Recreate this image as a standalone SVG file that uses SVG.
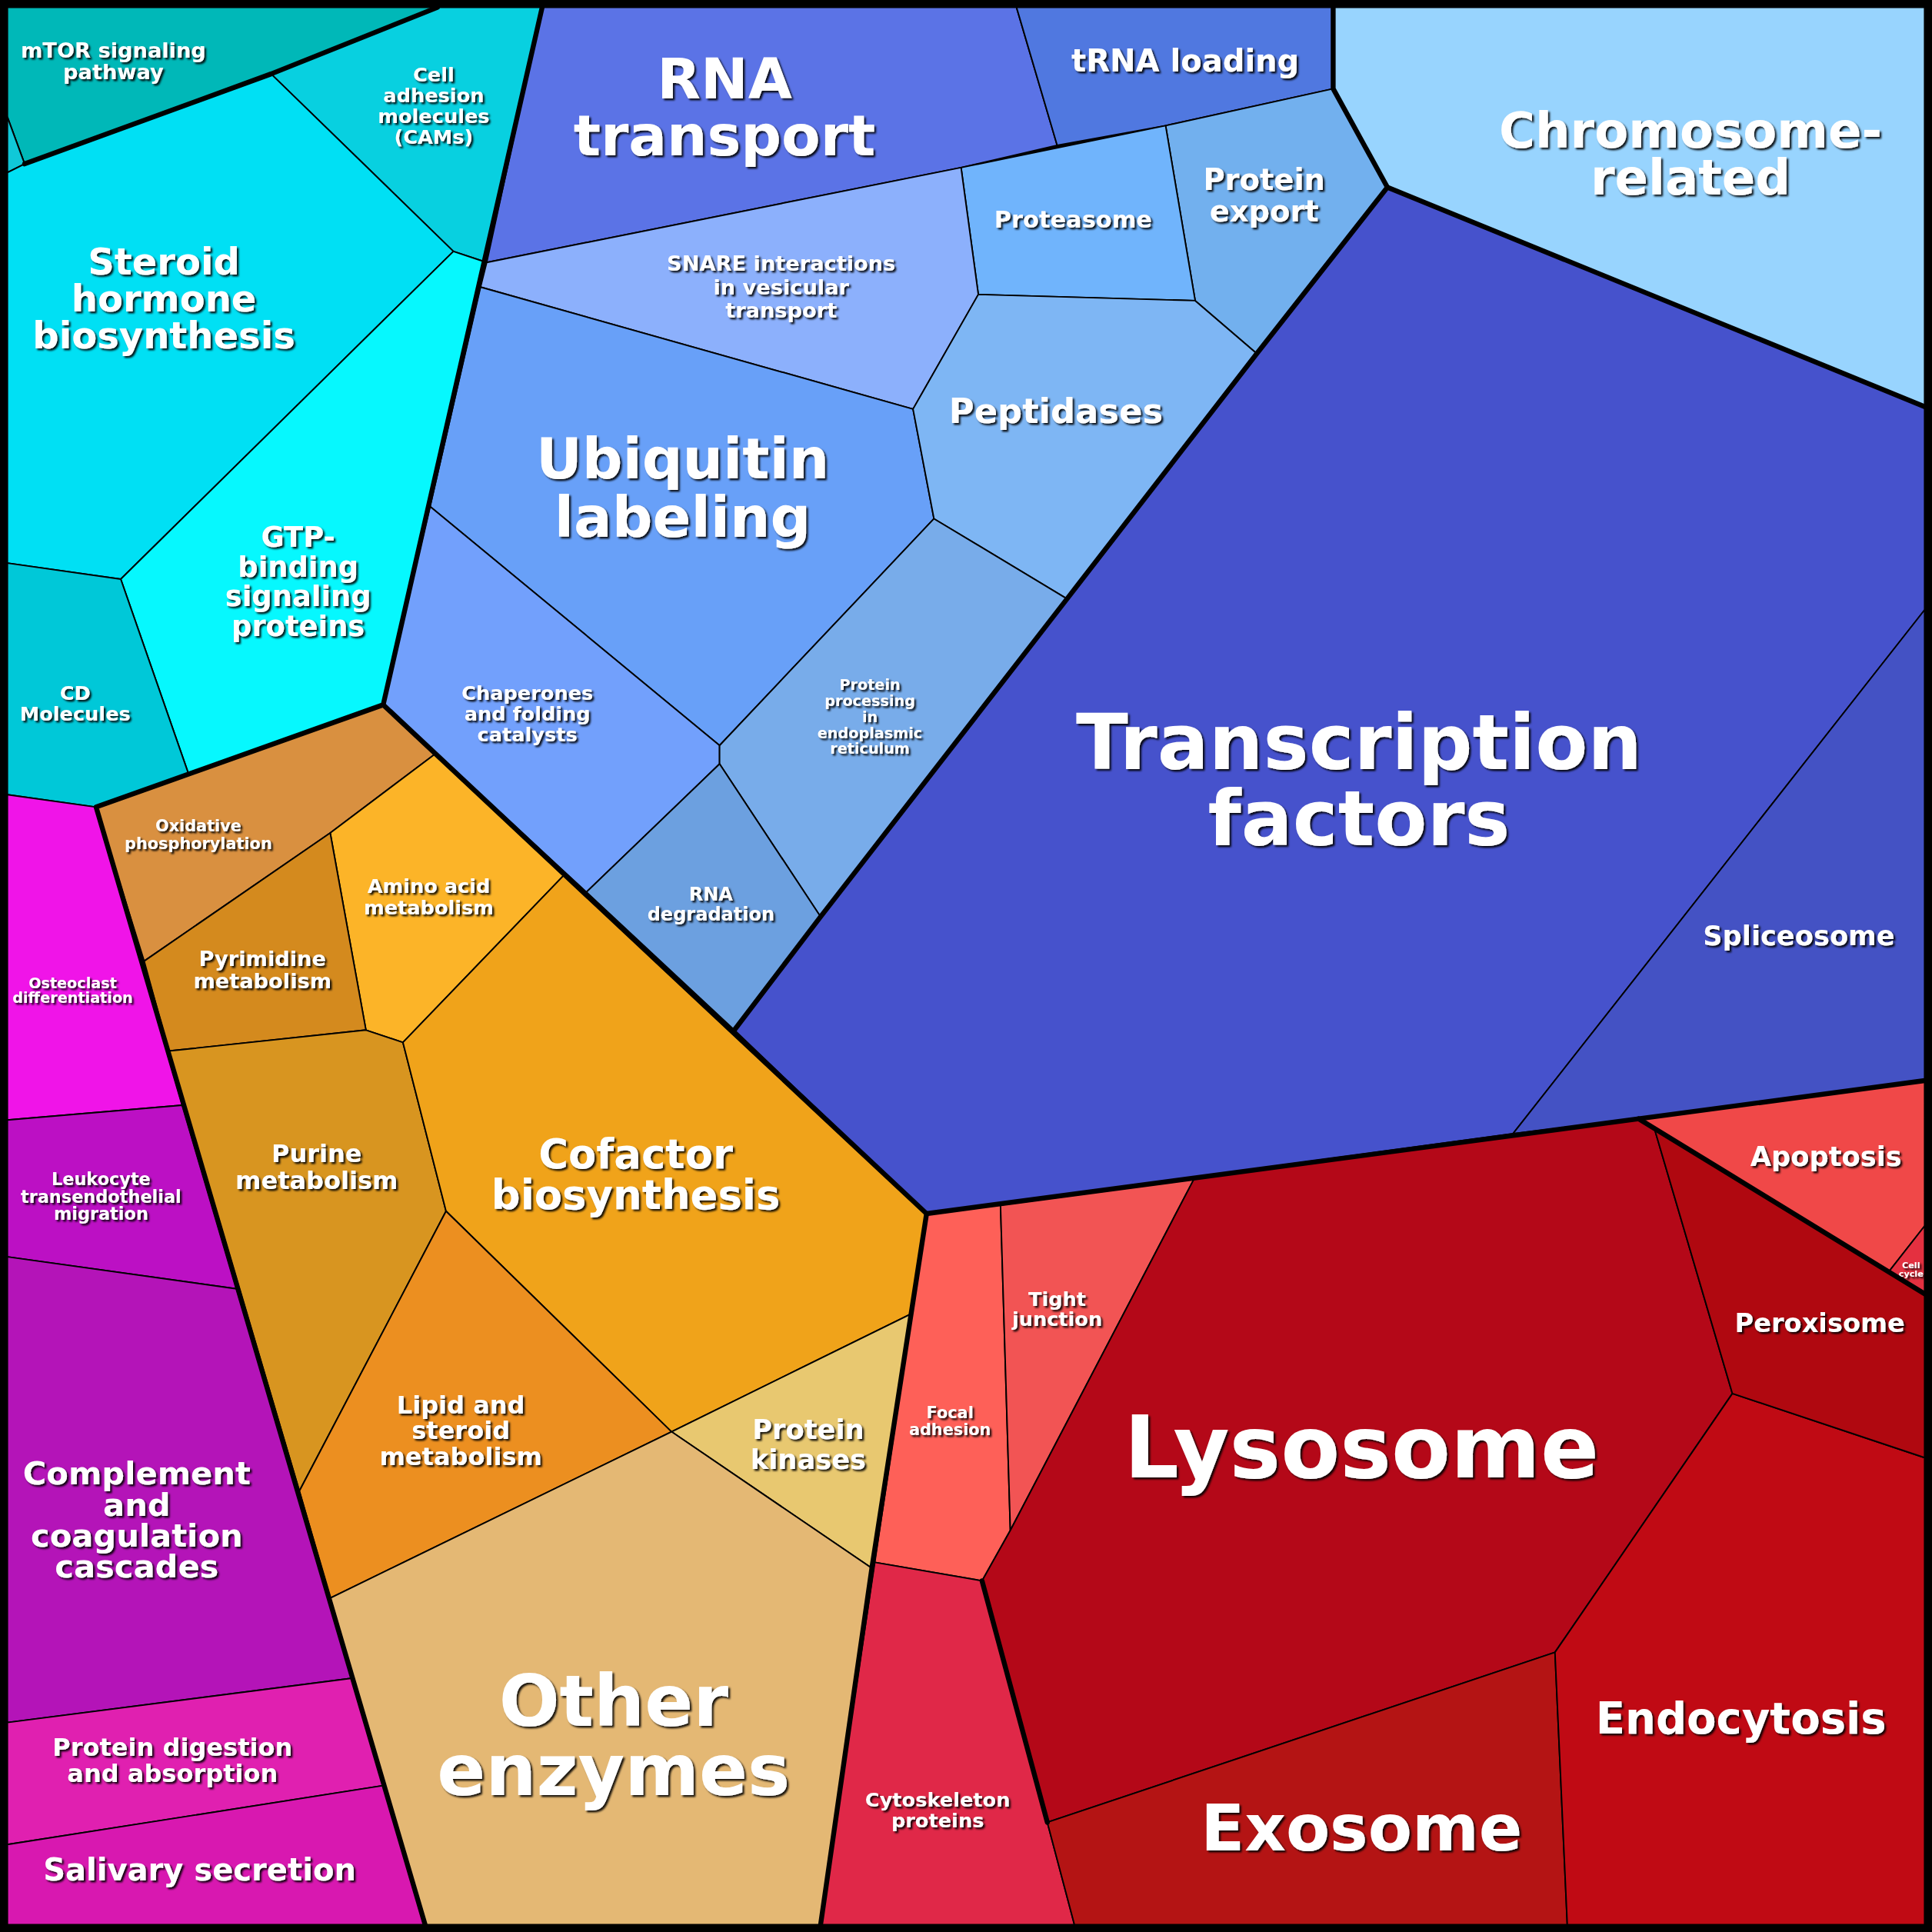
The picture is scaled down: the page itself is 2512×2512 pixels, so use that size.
<svg xmlns="http://www.w3.org/2000/svg" width="2512" height="2512" viewBox="0 0 2512 2512">
<defs>
<filter id="sh" x="-10%" y="-10%" width="130%" height="130%"><feDropShadow dx="1.5" dy="1.5" stdDeviation="0.6" flood-color="#000" flood-opacity="0.9"/></filter>
<style>
.c{stroke:#000;stroke-width:1.2;stroke-linejoin:round}
.t{fill:#fff;font-family:"DejaVu Sans",sans-serif;font-weight:bold;text-anchor:middle;filter:url(#sh)}
.b{fill:none;stroke:#000;stroke-width:4;stroke-linejoin:round;stroke-linecap:round}
</style>
</defs>
<rect width="2512" height="2512" fill="#000"/>
<g transform="scale(1.602041)">
<g id="mtor"><polygon class="c" fill="#00b8b8" points="6,6 355,6 220,60 20,133 6,95"/><text class="t" font-size="17" x="92" y="47">mTOR signaling<tspan x="92" dy="17">pathway</tspan></text></g>
<g id="tiny"><polygon class="c" fill="#10c8d8" points="6,95 20,133 6,140"/></g>
<g id="cam"><polygon class="c" fill="#08d0e0" points="355,6 440,6 395,213 368,204 220,60"/><text class="t" font-size="16" x="352" y="66">Cell<tspan x="352" dy="17">adhesion</tspan><tspan x="352" dy="17">molecules</tspan><tspan x="352" dy="17">(CAMs)</tspan></text></g>
<g id="steroid"><polygon class="c" fill="#00e0f4" points="6,140 20,133 220,60 368,204 98,470 6,457"/><text class="t" font-size="30" x="133" y="223">Steroid<tspan x="133" dy="30">hormone</tspan><tspan x="133" dy="30">biosynthesis</tspan></text></g>
<g id="gtp"><polygon class="c" fill="#06f8fe" points="368,204 395,213 311,572 153,628 98,470"/><text class="t" font-size="23" x="242" y="444">GTP-<tspan x="242" dy="24">binding</tspan><tspan x="242" dy="24">signaling</tspan><tspan x="242" dy="24">proteins</tspan></text></g>
<g id="cd"><polygon class="c" fill="#00c8d8" points="6,457 98,470 153,628 78,655 6,645"/><text class="t" font-size="16" x="61" y="568">CD<tspan x="61" dy="17">Molecules</tspan></text></g>

<g id="rnat"><polygon class="c" fill="#5b73e6" points="440,6 825,6 858,118 780,136 395,213"/><text class="t" font-size="46" x="588" y="80">RNA<tspan x="588" dy="46">transport</tspan></text></g>
<g id="trna"><polygon class="c" fill="#5078e0" points="825,6 1082,6 1082,72 946,102 858,118"/><text class="t" font-size="25" x="962" y="58">tRNA loading</text></g>
<g id="pexp"><polygon class="c" fill="#72b0ee" points="946,102 1082,72 1126,152 1020,287 970,244"/><text class="t" font-size="24" x="1026" y="154">Protein<tspan x="1026" dy="26">export</tspan></text></g>
<g id="proteasome"><polygon class="c" fill="#70b4fc" points="780,136 946,102 970,244 794,239"/><text class="t" font-size="19" x="871" y="185">Proteasome</text></g>
<g id="snare"><polygon class="c" fill="#8cb0fc" points="395,213 780,136 794,239 741,332 390,233"/><text class="t" font-size="17" x="634" y="220">SNARE interactions<tspan x="634" dy="19">in vesicular</tspan><tspan x="634" dy="19">transport</tspan></text></g>
<g id="ubiq"><polygon class="c" fill="#68a0f8" points="390,233 741,332 758,421 584,605 349,411"/><text class="t" font-size="46" x="554" y="388">Ubiquitin<tspan x="554" dy="48">labeling</tspan></text></g>
<g id="pept"><polygon class="c" fill="#7eb6f4" points="741,332 794,239 970,244 1020,287 866,486 758,421"/><text class="t" font-size="28" x="857" y="343">Peptidases</text></g>
<g id="chap"><polygon class="c" fill="#72a0fc" points="349,411 584,605 584,620 476,724 311,572"/><text class="t" font-size="16" x="428" y="568">Chaperones<tspan x="428" dy="17">and folding</tspan><tspan x="428" dy="17">catalysts</tspan></text></g>
<g id="ppe"><polygon class="c" fill="#78acea" points="584,605 758,421 866,486 666,744 584,620"/><text class="t" font-size="12" x="706" y="560">Protein<tspan x="706" dy="13">processing</tspan><tspan x="706" dy="13">in</tspan><tspan x="706" dy="13">endoplasmic</tspan><tspan x="706" dy="13">reticulum</tspan></text></g>
<g id="rnad"><polygon class="c" fill="#6ca0e0" points="584,620 666,744 596,836 476,724"/><text class="t" font-size="15" x="577" y="731">RNA<tspan x="577" dy="16">degradation</tspan></text></g>
<g id="chrom"><polygon class="c" fill="#98d4fe" points="1082,6 1562,6 1562,330 1126,152 1082,72"/><text class="t" font-size="40" x="1372" y="120">Chromosome-<tspan x="1372" dy="38">related</tspan></text></g>
<g id="tf"><polygon class="c" fill="#4652cc" points="1126,152 1562,330 1562,495 1228,920 752,985 596,836 666,744 866,486 1020,287"/><text class="t" font-size="62" x="1103" y="624">Transcription<tspan x="1103" dy="62">factors</tspan></text></g>
<g id="splice"><polygon class="c" fill="#4452c4" points="1562,495 1562,877 1330,908 1228,920"/><text class="t" font-size="22" x="1460" y="767">Spliceosome</text></g>

<g id="oxphos"><polygon class="c" fill="#d99040" points="78,655 311,572 353,612 268,676 117,780"/><text class="t" font-size="13" x="161" y="675">Oxidative<tspan x="161" dy="14">phosphorylation</tspan></text></g>
<g id="aa"><polygon class="c" fill="#fcb428" points="353,612 458,710 327,846 297,836 268,676"/><text class="t" font-size="16" x="348" y="725">Amino acid<tspan x="348" dy="17">metabolism</tspan></text></g>
<g id="pyr"><polygon class="c" fill="#d48a1e" points="117,780 268,676 297,836 137,853"/><text class="t" font-size="17" x="213" y="784">Pyrimidine<tspan x="213" dy="18">metabolism</tspan></text></g>
<g id="pur"><polygon class="c" fill="#d89520" points="137,853 297,836 327,846 362,983 243,1210"/><text class="t" font-size="20" x="257" y="943">Purine<tspan x="257" dy="22">metabolism</tspan></text></g>
<g id="cof"><polygon class="c" fill="#f0a31a" points="458,710 752,985 740,1066 545,1162 362,983 327,846"/><text class="t" font-size="33" x="516" y="948">Cofactor<tspan x="516" dy="33">biosynthesis</tspan></text></g>
<g id="lipid"><polygon class="c" fill="#ec8f20" points="362,983 545,1162 268,1297 243,1210"/><text class="t" font-size="20" x="374" y="1147">Lipid and<tspan x="374" dy="21">steroid</tspan><tspan x="374" dy="21">metabolism</tspan></text></g>
<g id="pk"><polygon class="c" fill="#e8c870" points="545,1162 740,1066 708,1273"/><text class="t" font-size="22" x="656" y="1168">Protein<tspan x="656" dy="24">kinases</tspan></text></g>
<g id="other"><polygon class="c" fill="#e4b874" points="268,1297 545,1162 708,1273 666,1562 345,1562"/><text class="t" font-size="58" x="498" y="1401">Other<tspan x="498" dy="56">enzymes</tspan></text></g>

<g id="osteo"><polygon class="c" fill="#f014e8" points="6,645 78,655 148,897 6,909"/><text class="t" font-size="12" x="59" y="802">Osteoclast<tspan x="59" dy="12">differentiation</tspan></text></g>
<g id="leuko"><polygon class="c" fill="#bc10c4" points="6,909 148,897 192,1046 6,1020"/><text class="t" font-size="14" x="82" y="962">Leukocyte<tspan x="82" dy="14">transendothelial</tspan><tspan x="82" dy="14">migration</tspan></text></g>
<g id="compl"><polygon class="c" fill="#b414b8" points="6,1020 192,1046 286,1362 6,1398"/><text class="t" font-size="26" x="111" y="1205">Complement<tspan x="111" dy="25">and</tspan><tspan x="111" dy="25">coagulation</tspan><tspan x="111" dy="25">cascades</tspan></text></g>
<g id="pdig"><polygon class="c" fill="#e020b0" points="6,1398 286,1362 312,1449 6,1497"/><text class="t" font-size="20" x="140" y="1425">Protein digestion<tspan x="140" dy="21">and absorption</tspan></text></g>
<g id="saliv"><polygon class="c" fill="#d818b0" points="6,1497 312,1449 345,1562 6,1562"/><text class="t" font-size="25" x="162" y="1526">Salivary secretion</text></g>

<g id="focal"><polygon class="c" fill="#fe6058" points="752,985 812,978 820,1242 797,1283 710,1268"/><text class="t" font-size="13" x="771" y="1151">Focal<tspan x="771" dy="14">adhesion</tspan></text></g>
<g id="tight"><polygon class="c" fill="#f25454" points="812,978 969,957 820,1242"/><text class="t" font-size="16" x="858" y="1060">Tight<tspan x="858" dy="16">junction</tspan></text></g>
<g id="cyto"><polygon class="c" fill="#e02848" points="710,1268 797,1283 850,1479 872,1562 666,1562"/><text class="t" font-size="16" x="761" y="1466">Cytoskeleton<tspan x="761" dy="17">proteins</tspan></text></g>
<g id="lyso"><polygon class="c" fill="#b40818" points="969,957 1330,908 1343,917 1406,1131 1262,1341 850,1479 797,1283 820,1242"/><text class="t" font-size="70" x="1105" y="1199">Lysosome</text></g>
<g id="exo"><polygon class="c" fill="#b41414" points="850,1479 1262,1341 1272,1562 872,1562"/><text class="t" font-size="52" x="1105" y="1502">Exosome</text></g>
<g id="endo"><polygon class="c" fill="#c00a14" points="1262,1341 1406,1131 1562,1183 1562,1562 1272,1562"/><text class="t" font-size="35" x="1413" y="1407">Endocytosis</text></g>
<g id="perox"><polygon class="c" fill="#b00810" points="1343,917 1533,1032 1562,1050 1562,1183 1406,1131"/><text class="t" font-size="21" x="1477" y="1081">Peroxisome</text></g>
<g id="apop"><polygon class="c" fill="#f04848" points="1330,908 1562,877 1562,995 1533,1032"/><text class="t" font-size="22" x="1482" y="946">Apoptosis</text></g>
<g id="cellcycle"><polygon class="c" fill="#e43040" points="1533,1032 1562,995 1562,1050"/><text class="t" font-size="7" x="1551" y="1029">Cell<tspan x="1551" dy="7">cycle</tspan></text></g>

<g id="connectors">
<polyline class="b" points="440,6 311,572 78,655 345,1562"/>
<polyline class="b" points="311,572 752,985 708,1270 666,1562"/>
<polyline class="b" points="596,836 666,744 866,486 1020,287 1126,152 1562,330"/>
<polyline class="b" points="752,985 1330,908 1562,877"/>
<polyline class="b" points="1082,6 1082,72 1126,152"/>
<polyline class="b" stroke-width="2.5" points="20,133 220,60 355,6"/>
<polyline class="b" stroke-width="2.5" points="1330,908 1562,1050"/>
<polyline class="b" stroke-width="2" points="797,1283 850,1479"/>
</g>
</g>
<rect x="5" y="5" width="2502" height="2502" fill="none" stroke="#000" stroke-width="10"/>
</svg>
